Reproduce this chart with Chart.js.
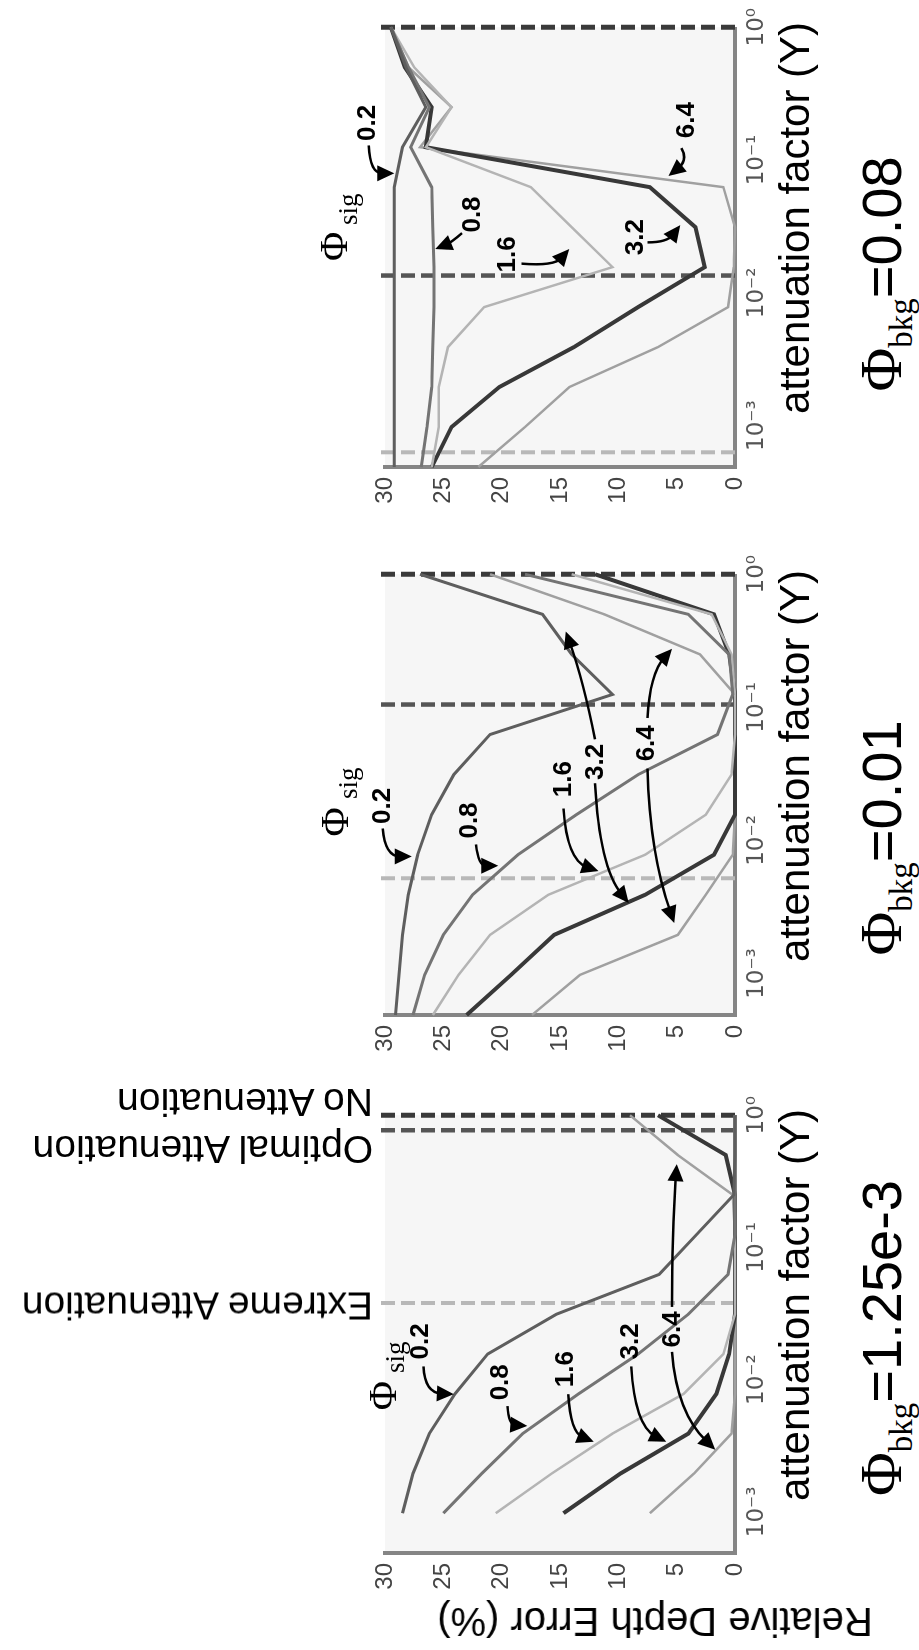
<!DOCTYPE html>
<html lang="en">
<head>
<meta charset="UTF-8" />
<title>Relative depth error vs attenuation factor</title>
<script src="https://cdn.jsdelivr.net/npm/chart.js"></script>
<style>
  html, body { margin: 0; padding: 0; background: #fff; }
  body { width: 919px; height: 1650px; overflow: hidden; position: relative; font-family: "Liberation Sans", Arial, sans-serif; }
  /* the figure is laid out flat (1650 x 919) and turned a quarter turn to stand upright */
  #fig { position: absolute; left: 0; top: 0; width: 1650px; height: 919px; transform-origin: 0 0; transform: translate(0, 1650px) rotate(-90deg); }
  #fig canvas { position: absolute; top: 0; }
  .txt { position: absolute; white-space: nowrap; color: #000; line-height: 1; }
  .vert { transform-origin: 0 0; transform: rotate(-90deg) translateY(-50%); font-size: 39px; }
  .xt { font-size: 42px; transform: translateX(-50%); top: 774px; }
  .ttl { font-size: 56px; transform: translateX(-50%); top: 854px; line-height: 56px; }
  .ttl .phi { font-family: "Liberation Serif", serif; font-size: 60px; line-height: 0; }
  .ttl sub { font-family: "Liberation Serif", serif; font-size: 33px; line-height: 0; vertical-align: -11px; }
</style>
</head>
<body>
<div id="fig">
  <canvas id="p1" width="555" height="780" style="left:7px"></canvas>
  <canvas id="p2" width="558" height="780" style="left:545px"></canvas>
  <canvas id="p3" width="557" height="780" style="left:1093px"></canvas>

  <div class="txt" style="left:28px;top:655px;font-size:40px;transform:translate(-50%,-50%) rotate(-90deg)">Relative Depth Error (%)</div>
  <div class="txt vert" style="left:344px;top:373px">Extreme Attenuation</div>
  <div class="txt vert" style="left:500px;top:373px">Optimal Attenuation</div>
  <div class="txt vert" style="left:547px;top:373px">No Attenuation</div>

  <div class="txt xt" style="left:345px">attenuation factor (Υ)</div>
  <div class="txt xt" style="left:884px">attenuation factor (Υ)</div>
  <div class="txt xt" style="left:1432px">attenuation factor (Υ)</div>

  <div class="txt ttl" style="left:312px"><span class="phi">Φ</span><sub>bkg</sub>=1.25e-3</div>
  <div class="txt ttl" style="left:812px"><span class="phi">Φ</span><sub>bkg</sub>=0.01</div>
  <div class="txt ttl" style="left:1376px"><span class="phi">Φ</span><sub>bkg</sub>=0.08</div>
</div>
<script>
  // attenuation factors (1/2048 ... 1)
  const gammas = [1/2048, 1/1024, 1/512, 1/256, 1/128, 1/64, 1/32, 1/16, 1/8, 1/4, 1/2, 1];
  const xTickValues = [0.001, 0.01, 0.1, 1];
  const xTickLabels = ['10⁻³', '10⁻²', '10⁻¹', '10⁰'];
  const sigLevels = ['0.2', '0.8', '1.6', '3.2', '6.4'];

  // Φbkg = 1.25e-3 (starts at 1/1024)
  const p1Sig02 = [28.5, 27.6, 26.2, 24.0, 21.2, 15.3, 6.5, 3.3, 0.1, 0, 0];
  const p1Sig08 = [25.0, 21.7, 18.2, 13.4, 8.3, 4.0, 0.6, 0, 0, 0, 0];
  const p1Sig16 = [20.5, 15.7, 10.5, 4.4, 1.0, 0, 0, 0, 0, 0, 0];
  const p1Sig32 = [14.7, 9.8, 4.0, 1.6, 0.5, 0, 0, 0, 0, 0.8, 6.6];
  const p1Sig64 = [7.3, 3.5, 0.3, 0, 0, 0, 0, 0, 0.2, 4.9, 9.0];

  // Φbkg = 0.01
  const p2Sig02 = [29.1, 28.8, 28.5, 28.0, 27.2, 26.0, 24.1, 21.0, 10.5, 14.0, 16.5, 27.0];
  const p2Sig08 = [27.6, 26.6, 25.0, 22.5, 18.6, 13.6, 8.3, 1.5, 0.2, 0.5, 4.0, 18.0];
  const p2Sig16 = [25.9, 23.7, 21.0, 16.0, 7.7, 2.5, 0.3, 0, 0, 0.3, 2.0, 14.0];
  const p2Sig32 = [23.0, 19.2, 15.5, 7.7, 1.8, 0, 0, 0, 0, 0.5, 1.8, 12.0];
  const p2Sig64 = [17.4, 13.3, 4.9, 2.5, 0.2, 0, 0, 0, 0, 3.0, 11.2, 21.0];

  // Φbkg = 0.08
  const p3Sig02 = [29.2, 29.2, 29.2, 29.2, 29.2, 29.2, 29.2, 29.2, 28.5, 26.5, 28.2, 29.5];
  const p3Sig08 = [26.9, 26.4, 26.0, 25.9, 25.8, 25.8, 25.9, 26.0, 27.8, 26.2, 28.0, 29.5];
  const p3Sig16 = [26.0, 25.4, 25.4, 24.6, 21.5, 10.5, 14.0, 17.5, 26.5, 24.3, 27.5, 29.5];
  const p3Sig32 = [26.0, 24.3, 20.2, 13.8, 8.3, 2.6, 3.4, 7.3, 26.5, 26.0, 28.3, 29.5];
  const p3Sig64 = [22.0, 18.0, 14.2, 6.6, 0.6, 0.1, 0, 1.0, 27.0, 24.3, 28.0, 29.5];

  // no / optimal / extreme attenuation
  const p1Marks = [1, 0.77, 0.038];
  const p2Marks = [1, 0.105, 0.0052];
  const p3Marks = [1, 0.0135, 0.00063];

  const lineColors = ['#5e5e5e', '#747474', '#b4b4b4', '#383838', '#a0a0a0'];
  const lineWidths = [3, 3, 2.5, 4, 2.5];
  const markColors = ['#3a3a3a', '#555555', '#b8b8b8'];
  const markWidths = [5, 4.5, 4];

  // label / arrow spots, as [log10 γ, error]
  const notes = {
    p1: {
      phi: [-2.12, 30.0], sig: [-1.83, 29.0],
      labels: [['0.2', -1.71, 26.9], ['0.8', -2.02, 20.1], ['1.6', -1.92, 14.5], ['3.2', -1.71, 8.9], ['6.4', -1.62, 5.3]],
      arrows: [
        [[-1.90, 26.7], [-2.10, 26.6], [-2.11, 24.1]],
        [[-2.20, 19.5], [-2.34, 19.4], [-2.35, 17.8]],
        [[-2.11, 14.3], [-2.40, 14.1], [-2.47, 12.1]],
        [[-1.90, 8.9], [-2.35, 8.6], [-2.47, 5.9]],
        [[-1.45, 5.4], [-0.90, 5.4], [-0.37, 5.0]],
        [[-1.79, 5.4], [-2.25, 5.0], [-2.53, 1.7]]
      ]
    },
    p2: {
      phi: [-1.86, 34.1], sig: [-1.57, 33.0],
      labels: [['0.2', -1.74, 30.2], ['0.8', -1.85, 22.7], ['1.6', -1.54, 14.7], ['3.2', -1.41, 11.9], ['6.4', -1.27, 7.6]],
      arrows: [
        [[-1.91, 30.2], [-2.12, 30.0], [-2.12, 27.7]],
        [[-2.03, 22.2], [-2.19, 22.0], [-2.19, 20.3]],
        [[-1.76, 14.7], [-2.15, 14.4], [-2.23, 11.7]],
        [[-1.57, 12.0], [-2.20, 11.6], [-2.47, 9.1]],
        [[-1.24, 12.0], [-0.80, 13.0], [-0.43, 14.5]],
        [[-1.46, 7.5], [-2.10, 7.3], [-2.62, 5.2]],
        [[-1.08, 7.5], [-0.75, 7.3], [-0.56, 5.4]]
      ]
    },
    p3: {
      phi: [-1.65, 34.2], sig: [-1.37, 33.0],
      labels: [['0.2', -0.72, 31.5], ['0.8', -1.41, 22.5], ['1.6', -1.71, 19.5], ['3.2', -1.58, 8.5], ['6.4', -0.70, 4.1]],
      arrows: [
        [[-0.89, 31.4], [-1.10, 31.3], [-1.10, 29.2]],
        [[-1.55, 23.4], [-1.62, 24.3], [-1.67, 25.7]],
        [[-1.78, 18.3], [-1.80, 15.5], [-1.67, 14.2]],
        [[-1.62, 7.5], [-1.62, 5.8], [-1.49, 4.7]],
        [[-0.91, 4.6], [-1.00, 4.0], [-1.12, 5.7]]
      ]
    }
  };

  const notePlugin = {
    id: 'notes',
    beforeDraw(chart) {
      const a = chart.chartArea, ctx = chart.ctx;
      ctx.save();
      ctx.fillStyle = '#f6f6f6';
      ctx.fillRect(a.left, a.top, a.right - a.left, a.bottom - a.top);
      ctx.restore();
    },
    afterDatasetsDraw(chart) {
      const n = notes[chart.canvas.id];
      if (!n) return;
      const xs = chart.scales.x, ys = chart.scales.y, ctx = chart.ctx;
      const P = p => [xs.getPixelForValue(Math.pow(10, p[0])), ys.getPixelForValue(p[1])];
      ctx.save();
      ctx.fillStyle = '#000';
      ctx.strokeStyle = '#000';
      ctx.textAlign = 'center';
      ctx.textBaseline = 'middle';
      ctx.font = '40px "Liberation Serif", serif';
      ctx.fillText('Φ', ...P(n.phi));
      ctx.font = '27px "Liberation Serif", serif';
      ctx.fillText('sig', ...P(n.sig));
      ctx.font = 'bold 26px "Liberation Sans", Arial, sans-serif';
      n.labels.forEach(l => ctx.fillText(l[0], ...P([l[1], l[2]])));
      ctx.lineWidth = 2.5;
      n.arrows.forEach(ar => {
        const s = P(ar[0]), c = P(ar[1]), t = P(ar[2]);
        const ang = Math.atan2(t[1] - c[1], t[0] - c[0]);
        const bx = t[0] - 12 * Math.cos(ang), by = t[1] - 12 * Math.sin(ang);
        ctx.beginPath();
        ctx.moveTo(s[0], s[1]);
        ctx.quadraticCurveTo(c[0], c[1], bx, by);
        ctx.stroke();
        ctx.beginPath();
        ctx.moveTo(t[0], t[1]);
        ctx.lineTo(t[0] - 17 * Math.cos(ang) + 8 * Math.sin(ang), t[1] - 17 * Math.sin(ang) - 8 * Math.cos(ang));
        ctx.lineTo(t[0] - 17 * Math.cos(ang) - 8 * Math.sin(ang), t[1] - 17 * Math.sin(ang) + 8 * Math.cos(ang));
        ctx.closePath();
        ctx.fill();
      });
      ctx.restore();
    }
  };

  function curveSets(xs, series) {
    return series.map((ys, i) => ({
      label: sigLevels[i],
      data: ys.map((y, j) => ({ x: xs[j], y: y })),
      borderColor: lineColors[i],
      borderWidth: lineWidths[i],
      pointRadius: 0,
      tension: 0,
      clip: false,
      order: 1
    }));
  }

  function markSets(marks) {
    return marks.map((g, i) => ({
      label: 'mark' + i,
      data: [{ x: g, y: 0 }, { x: g, y: 30.5 }],
      borderColor: markColors[i],
      borderWidth: markWidths[i],
      borderDash: [14, 6],
      pointRadius: 0,
      clip: false,
      order: 2
    }));
  }

  function makePanel(id, xs, series, marks) {
    new Chart(document.getElementById(id), {
      type: 'line',
      data: { datasets: curveSets(xs, series).concat(markSets(marks)) },
      options: {
        responsive: false,
        animation: false,
        devicePixelRatio: 1,
        layout: { padding: { top: 385, right: 25, left: 0, bottom: 0 } },
        plugins: { legend: { display: false }, tooltip: { enabled: false } },
        scales: {
          x: {
            type: 'logarithmic',
            min: 1 / 2048,
            max: 1,
            afterBuildTicks: s => { s.ticks = xTickValues.map(v => ({ value: v })); },
            afterFit: s => { s.height = 45; },
            ticks: {
              autoSkip: false, maxRotation: 0, padding: 8, color: '#555',
              font: { size: 23, family: '"DejaVu Sans", "Liberation Sans", sans-serif' },
              callback: v => xTickLabels[xTickValues.indexOf(v)] || ''
            },
            grid: { display: false, drawTicks: false },
            border: { display: true, color: '#858585', width: 4 }
          },
          y: {
            min: 0,
            max: 30,
            afterFit: s => { s.width = 90; },
            ticks: {
              stepSize: 5, padding: 10, color: '#444',
              font: { size: 24, family: '"Liberation Sans", Arial, sans-serif' }
            },
            grid: { display: false, drawTicks: false },
            border: { display: true, color: '#858585', width: 4 }
          }
        }
      },
      plugins: [notePlugin]
    });
  }

  makePanel('p1', gammas.slice(1), [p1Sig02, p1Sig08, p1Sig16, p1Sig32, p1Sig64], p1Marks);
  makePanel('p2', gammas, [p2Sig02, p2Sig08, p2Sig16, p2Sig32, p2Sig64], p2Marks);
  makePanel('p3', gammas, [p3Sig02, p3Sig08, p3Sig16, p3Sig32, p3Sig64], p3Marks);
</script>
</body>
</html>
